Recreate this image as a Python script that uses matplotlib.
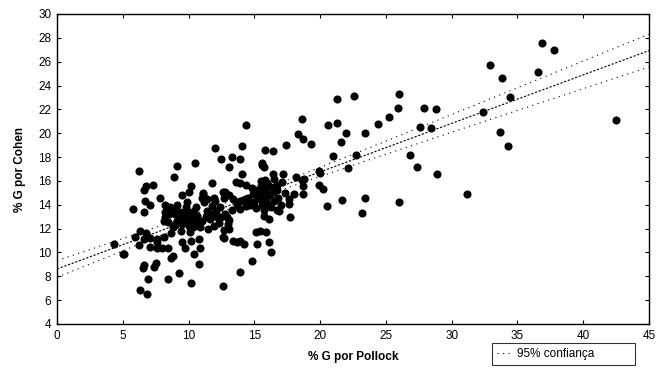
import numpy as np
import matplotlib.pyplot as plt

plt.rcParams['font.family'] = ['Liberation Sans', 'DejaVu Sans']

# % G por Pollock (x) e % G por Cohen (y)
pollock = [
    36.9, 37.8, 32.9, 33.8, 36.6, 34.4, 32.4, 33.7, 34.3, 42.5,
    26.0, 25.9, 24.4, 23.4, 25.2, 27.9, 28.8, 27.6, 28.4, 26.8, 27.4, 28.9,
    23.4, 23.2, 26.0, 31.2,
    21.3, 22.6, 18.6, 20.6, 21.3, 22.0, 18.3, 18.7, 19.3, 21.6, 17.4, 15.8, 16.4,
    21.0, 22.7, 22.1, 20.0, 15.6, 16.4, 17.2, 18.2, 18.8, 18.7, 19.9, 20.2, 18.0,
    18.7, 17.65, 20.5, 21.7, 19.9, 16.5, 18.6, 15.55, 16.7, 17.1,
    14.4, 12.0, 14.1, 12.5, 13.3, 13.9, 13.1, 15.7, 10.5, 9.1, 8.9, 14.1, 11.8,
    13.6, 14.4, 15.5, 10.2, 10.05, 9.5, 11.1, 12.6, 13.9, 15.8,
    6.2, 6.8, 7.3, 6.6, 7.85, 6.7, 7.1, 8.2, 5.8, 6.6, 8.2, 8.1, 6.3, 6.8, 5.95,
    6.6, 7.1, 7.6, 8.1, 6.2, 7.1, 7.6, 4.35, 5.0, 5.1, 6.6, 6.5, 7.5, 7.4, 6.3,
    6.85, 6.9, 8.4,
    9.3, 10.2, 12.6, 10.8, 13.9, 14.8, 8.8, 8.7, 10.4, 9.7, 10.9, 9.5, 10.2, 10.8,
    7.95, 8.4, 12.7, 13.4, 13.9, 14.2, 15.2, 15.1, 15.4, 15.9, 12.7, 16.1, 16.3,
    17.7, 15.7, 16.1, 16.7, 13.65, 7.6,
    8.59, 8.97, 9.35, 9.73, 9.98, 9.1, 9.47, 9.85, 10.23, 10.61, 10.49, 10.87,
    8.84, 8.46, 8.21, 9.2, 9.6, 10.0, 9.0, 10.3, 9.4, 10.1, 8.7, 9.8, 10.4, 9.1,
    9.9, 8.5, 11.0, 11.3, 10.6, 9.5, 10.0,
    9.3, 9.7, 10.2, 10.7, 9.0, 11.5, 11.7, 12.2,
    11.4, 11.8, 12.1, 12.4, 12.0, 11.6, 12.3, 11.9, 12.8, 13.3, 13.7, 12.7, 11.2,
    13.0, 12.5, 13.9, 12.9, 13.1, 13.1, 12.6, 13.4, 13.9, 14.3, 14.5, 14.9, 15.2,
    12.8, 13.1, 11.0, 11.1, 11.4, 11.9,
    15.0, 15.3, 15.6, 15.9, 16.2, 16.5, 15.4, 15.8, 16.1, 16.4, 16.8, 17.0, 15.1,
    15.7, 16.3, 14.7, 16.0, 16.6, 17.3, 14.8, 15.5, 16.9, 14.4, 17.6,
    15.9, 16.2, 15.6, 16.7, 16.0, 15.3,
]
cohen = [
    27.6, 27.0, 25.7, 24.6, 25.1, 23.0, 21.8, 20.1, 18.9, 21.1,
    23.3, 22.1, 20.8, 20.05, 21.4, 22.1, 22.0, 20.5, 20.4, 18.2, 17.2, 16.6,
    14.6, 13.3, 14.2, 14.9,
    22.9, 23.1, 21.2, 20.7, 20.9, 20.0, 19.9, 19.5, 19.1, 19.3, 19.0, 18.6, 18.5,
    18.1, 18.2, 17.1, 16.7, 17.3, 16.55, 16.6, 16.3, 16.2, 15.6, 15.7, 15.3, 14.9,
    14.9, 14.1, 13.9, 14.4, 16.85, 16.2, 16.1, 17.5, 15.7, 15.9,
    20.7, 18.8, 18.9, 17.8, 18.0, 17.8, 17.2, 17.2, 17.5, 17.25, 16.3, 16.6, 15.85,
    15.9, 15.7, 16.0, 15.6, 15.1, 14.8, 15.0, 15.05, 15.8, 16.1,
    16.8, 15.6, 15.7, 15.2, 14.6, 14.3, 14.0, 14.0, 13.65, 13.4, 13.4, 12.6, 11.8,
    11.6, 11.3, 11.1, 11.2, 11.1, 11.3, 10.6, 10.5, 10.35, 10.7, 9.9, 9.85, 8.95,
    8.7, 9.1, 8.8, 6.85, 6.5, 7.8, 7.8,
    8.25, 7.4, 7.2, 9.0, 8.4, 9.3, 9.7, 9.5, 9.85, 10.35, 10.4, 10.9, 11.0, 11.1,
    10.4, 10.35, 11.2, 11.0, 11.0, 10.7, 10.7, 11.7, 11.8, 11.7, 11.9, 10.85, 10.0,
    13.0, 13.1, 12.8, 13.6, 10.85, 10.85,
    13.79, 13.23, 13.37, 13.09, 12.95, 12.67, 12.39, 12.53, 12.81, 13.09, 12.39,
    12.11, 12.11, 12.53, 12.95, 13.0, 12.7, 13.4, 12.3, 12.1, 11.8, 11.7, 11.6,
    13.8, 13.5, 14.0, 14.2, 13.2, 12.6, 13.0, 13.8, 13.0, 12.2,
    12.9, 13.2, 13.0, 12.6, 13.6, 12.0, 13.2, 13.0,
    13.5, 13.9, 13.5, 13.8, 14.3, 12.8, 12.5, 12.2, 13.2, 13.6, 14.0, 14.6, 14.2,
    12.4, 13.0, 13.65, 12.95, 12.7, 12.0, 11.3, 14.5, 14.35, 14.5, 14.6, 14.9, 15.2,
    15.05, 14.8, 14.6, 14.9, 14.5, 14.6,
    14.2, 14.6, 14.0, 14.4, 14.8, 14.3, 15.0, 15.3, 15.6, 15.1, 14.6, 14.0, 13.7,
    13.6, 13.8, 14.0, 14.1, 15.5, 15.0, 15.4, 15.6, 13.5, 13.9, 14.5,
    14.9, 14.0, 14.4, 15.2, 15.8, 14.7,
]

x_ticks = [0, 5, 10, 15, 20, 25, 30, 35, 40, 45]
y_ticks = [4, 6, 8, 10, 12, 14, 16, 18, 20, 22, 24, 26, 28, 30]

x = np.array(pollock)
y = np.array(cohen)

# regressao linear e intervalo de 95% para a reta
b, a = np.polyfit(x, y, 1)
n = len(x)
res = y - (a + b * x)
s = np.sqrt(np.sum(res ** 2) / (n - 2))
sxx = np.sum((x - x.mean()) ** 2)
xl = np.linspace(0, 45, 300)
yl = a + b * xl
hw = 1.97 * s * np.sqrt(1 / n + (xl - x.mean()) ** 2 / sxx)

fig = plt.figure(figsize=(6.56, 3.74), dpi=100)
ax = fig.add_axes([57 / 656, 50 / 374, 592 / 656, 310 / 374])

ax.scatter(x, y, s=34, color='black', marker='o', linewidths=0, zorder=3)
ax.plot(xl, yl, color='black', lw=0.8, ls=(0, (2, 1.5)), zorder=2)
ax.plot(xl, yl + hw, color='black', lw=0.8, ls=(0, (1, 4)), zorder=2,
        label='95% confiança')
ax.plot(xl, yl - hw, color='black', lw=0.8, ls=(0, (1, 4)), zorder=2)

ax.set_xlim(0, 45)
ax.set_ylim(4, 30)
ax.set_xticks(x_ticks)
ax.set_yticks(y_ticks)
ax.tick_params(direction='in', length=3, width=0.8, labelsize=8.5,
               top=True, right=True, pad=4)
for sp in ax.spines.values():
    sp.set_linewidth(1.0)

ax.set_xlabel('% G por Pollock', fontsize=8.5, fontweight='bold', labelpad=7)
ax.set_ylabel('% G por Cohen', fontsize=8.5, fontweight='bold', labelpad=9)

leg = fig.legend(loc='center', mode='expand',
                 bbox_to_anchor=(486 / 656, 6 / 374, 155 / 656, 28 / 374),
                 fontsize=8.5, frameon=True, fancybox=False, handlelength=1.2,
                 handletextpad=0.5, borderpad=0.4)
leg.get_frame().set_edgecolor('black')
leg.get_frame().set_linewidth(0.8)

fig.savefig('out.png', dpi=100)
